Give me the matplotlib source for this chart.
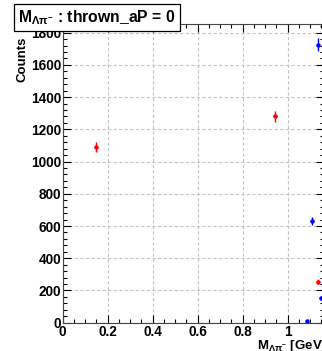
import numpy as np
import matplotlib
matplotlib.use("Agg")
import matplotlib.pyplot as plt
from matplotlib.ticker import MultipleLocator, AutoMinorLocator

plt.rcParams['font.family'] = ['Liberation Sans', 'DejaVu Sans']
plt.rcParams['font.weight'] = 'bold'
plt.rcParams['mathtext.fontset'] = 'custom'
plt.rcParams['mathtext.rm'] = 'Liberation Sans'
plt.rcParams['mathtext.it'] = 'Liberation Sans'
plt.rcParams['mathtext.bf'] = 'Liberation Sans:bold'

# values
red_x = [0.148, 0.944, 1.133]
red_y = [1090, 1280, 255]
blue_x = [1.084, 1.107, 1.133, 1.148]
blue_y = [12, 630, 1725, 153]
x_err = 0.008

W, H = 322, 351
fig = plt.figure(figsize=(W / 100, H / 100), dpi=100)

# axes box in pixels (right edge runs past the picture, as in the reference)
left, right, top, bottom = 62.7, 324.0, 24.3, 322.7
ax = fig.add_axes([left / W, 1 - bottom / H, (right - left) / W, (bottom - top) / H])
ax.set_xlim(0, (right - left) / 225.0)
ax.set_ylim(0, 1852)

ax.errorbar(red_x, red_y, yerr=np.sqrt(red_y), xerr=x_err, fmt='o', color='red',
            ms=2.2, elinewidth=1, capsize=0)
ax.errorbar(blue_x, blue_y, yerr=np.sqrt(blue_y), xerr=x_err, fmt='o', color='blue',
            ms=2.2, elinewidth=1, capsize=0)

ax.xaxis.set_major_locator(MultipleLocator(0.2))
ax.xaxis.set_minor_locator(AutoMinorLocator(4))
ax.yaxis.set_major_locator(MultipleLocator(200))
ax.yaxis.set_minor_locator(AutoMinorLocator(5))
ax.xaxis.set_major_formatter(plt.FuncFormatter(lambda v, p: '%g' % round(v, 2)))

ax.tick_params(which='both', direction='in', top=True, right=True, labelsize=9.8, width=0.8)
ax.tick_params(which='major', length=6)
ax.tick_params(which='minor', length=3)
ax.tick_params(axis='y', pad=1)
ax.tick_params(axis='x', pad=2)
for lab in ax.get_xticklabels() + ax.get_yticklabels():
    lab.set_fontweight('bold')
for s in ax.spines.values():
    s.set_linewidth(0.8)
    s.set_color('#444444')

ax.grid(True, which='major', color='#c4c4c4', linestyle=(0, (3, 2)), linewidth=0.8)

fig.text(23 / W, 1 - 37 / H, 'Counts', rotation=90, ha='center', va='top',
         fontsize=9.5, fontweight='bold')
fig.text(327 / W, 1 - 346 / H, r'M$_{\Lambda\pi^{-}}$ [GeV]', ha='right', va='center',
         fontsize=9.5, fontweight='bold')

fig.text(97 / W, 1 - 17.5 / H, r'M$_{\Lambda\pi^{-}}$ : thrown_aP = 0', ha='center', va='center',
         fontsize=11.3, fontweight='bold',
         bbox=dict(boxstyle='square,pad=0.25', facecolor='white', edgecolor='black', linewidth=0.9))

fig.savefig('out.png', dpi=100)
